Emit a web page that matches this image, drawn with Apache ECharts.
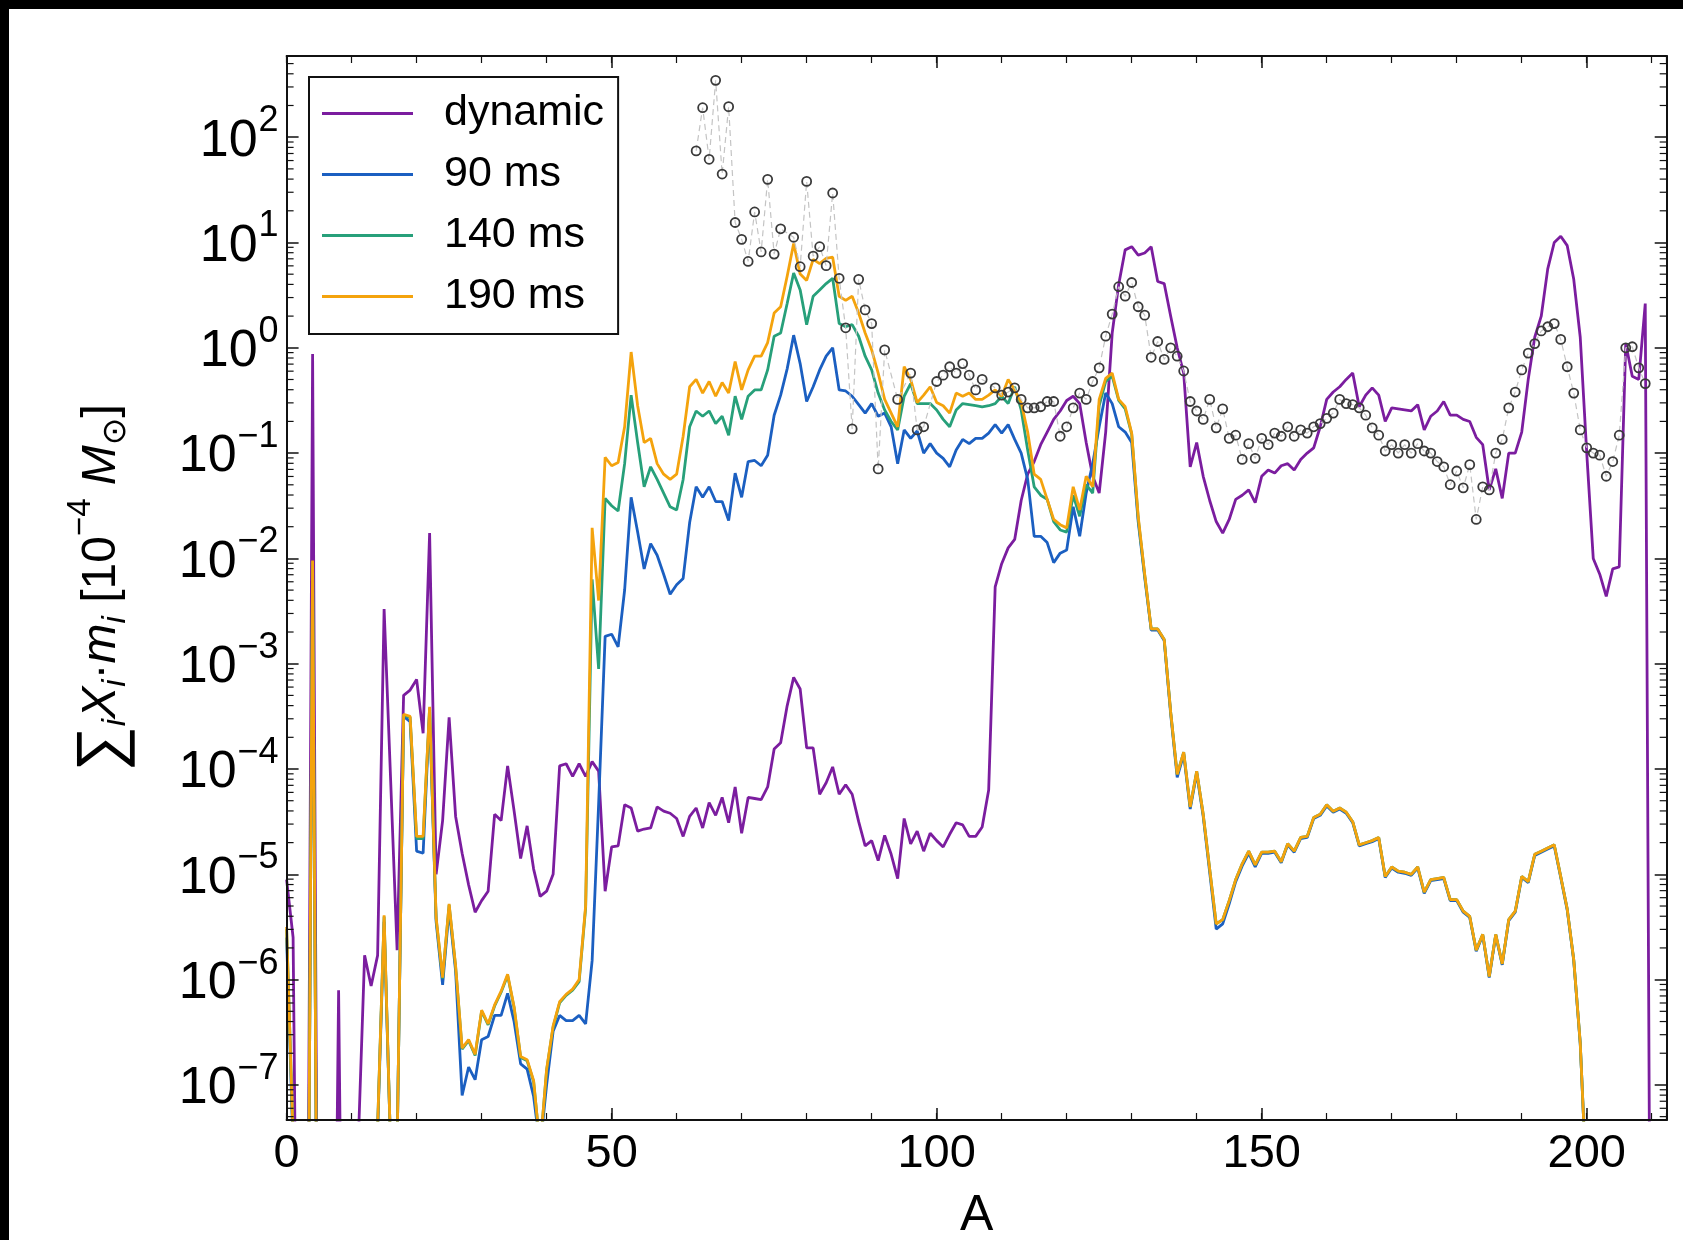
<!DOCTYPE html>
<html>
<head>
<meta charset="utf-8">
<script src="https://cdn.jsdelivr.net/npm/echarts@6/dist/echarts.min.js"></script>
<style>
html,body{margin:0;padding:0;background:#000;width:1683px;height:1240px;overflow:hidden;}
#paper{position:absolute;left:9px;top:9px;width:1674px;height:1231px;background:#fff;}
#chart{position:absolute;left:0;top:0;width:1683px;height:1240px;}
</style>
</head>
<body>
<div id="paper"></div>
<div id="chart"></div>
<script>
// All series values are log10 of sum X_i*m_i [1e-4 Msun]; array index = mass number A.
// -12 marks values far below the plotted range (line drops out of the frame).
const dynamicLog = [
  -5.05,-5.6,-12,-12,-0.06,-12,-12,-12,-6.1,-12,
  -12,-7.6,-5.77,-6.06,-5.77,-2.48,-4.1,-5.72,-3.3,-3.25,
  -3.15,-3.66,-1.76,-5.0,-4.49,-3.51,-4.45,-4.8,-5.1,-5.36,
  -5.25,-5.16,-4.43,-4.49,-3.97,-4.4,-4.85,-4.54,-4.95,-5.21,
  -5.16,-5.0,-3.97,-3.95,-4.07,-3.95,-4.07,-3.93,-4.02,-5.16,
  -4.74,-4.73,-4.34,-4.37,-4.59,-4.57,-4.56,-4.36,-4.40,-4.42,
  -4.47,-4.64,-4.45,-4.37,-4.56,-4.32,-4.44,-4.27,-4.51,-4.17,
  -4.61,-4.27,-4.28,-4.29,-4.17,-3.81,-3.75,-3.4,-3.13,-3.24,
  -3.80,-3.80,-4.24,-4.13,-3.98,-4.24,-4.15,-4.24,-4.50,-4.73,
  -4.68,-4.87,-4.63,-4.81,-5.04,-4.47,-4.71,-4.59,-4.78,-4.61,
  -4.68,-4.74,-4.62,-4.51,-4.53,-4.64,-4.64,-4.55,-4.2,-2.27,
  -2.05,-1.90,-1.82,-1.45,-1.20,-1.08,-0.92,-0.80,-0.68,-0.60,
  -0.50,-0.46,-0.53,-0.90,-1.22,-1.38,-0.80,0.14,0.60,0.93,
  0.96,0.88,0.90,0.96,0.63,0.61,0.30,0.00,-0.24,-1.13,
  -0.90,-1.22,-1.45,-1.65,-1.76,-1.63,-1.44,-1.40,-1.35,-1.47,
  -1.22,-1.16,-1.19,-1.12,-1.10,-1.16,-1.06,-1.00,-0.95,-0.75,
  -0.49,-0.42,-0.37,-0.30,-0.24,-0.56,-0.45,-0.38,-0.45,-0.70,
  -0.57,-0.58,-0.59,-0.60,-0.54,-0.78,-0.65,-0.60,-0.51,-0.64,
  -0.64,-0.68,-0.70,-0.85,-0.92,-1.35,-1.15,-1.43,-1.00,-1.00,
  -0.80,-0.30,0.10,0.30,0.75,1.00,1.06,0.97,0.65,0.10,
  -1.00,-2.00,-2.15,-2.36,-2.10,-2.08,0.04,-0.27,-0.30,0.42,
  -12
];
const ms90Log = [
  -5.6,-7.6,-12,-12,-2.05,-12,-12,-12,-12,-12,
  -12,-12,-12,-12,-7.45,-5.45,-7.6,-7.6,-3.50,-3.55,
  -4.78,-4.80,-3.45,-5.45,-6.05,-5.33,-5.92,-7.10,-6.83,-6.95,
  -6.57,-6.54,-6.34,-6.34,-6.13,-6.40,-6.80,-6.85,-7.11,-7.6,
  -7.00,-6.49,-6.34,-6.39,-6.39,-6.34,-6.42,-5.82,-4.33,-2.74,
  -2.72,-2.84,-2.30,-1.42,-1.75,-2.10,-1.86,-1.97,-2.15,-2.34,
  -2.25,-2.19,-1.66,-1.32,-1.42,-1.32,-1.46,-1.46,-1.64,-1.19,
  -1.42,-1.08,-1.07,-1.12,-1.02,-0.64,-0.45,-0.20,0.12,-0.15,
  -0.51,-0.37,-0.21,-0.08,0.00,-0.40,-0.41,-0.46,-0.54,-0.62,
  -0.53,-0.65,-0.62,-0.75,-1.10,-0.78,-0.86,-0.79,-1.00,-0.91,
  -1.00,-1.05,-1.13,-0.97,-0.87,-0.91,-0.86,-0.86,-0.81,-0.73,
  -0.81,-0.73,-0.87,-1.00,-1.25,-1.79,-1.79,-1.85,-2.04,-1.95,
  -1.92,-1.51,-1.79,-1.38,-1.10,-0.75,-0.43,-0.53,-0.75,-0.80,
  -0.90,-1.65,-2.18,-2.68,-2.68,-2.78,-3.48,-4.08,-3.86,-4.38,
  -4.04,-4.45,-4.98,-5.52,-5.47,-5.28,-5.07,-4.92,-4.80,-4.93,
  -4.80,-4.80,-4.79,-4.89,-4.72,-4.79,-4.66,-4.65,-4.47,-4.44,
  -4.35,-4.41,-4.38,-4.42,-4.51,-4.73,-4.71,-4.69,-4.66,-5.03,
  -4.94,-4.98,-4.99,-5.01,-4.94,-5.18,-5.06,-5.05,-5.04,-5.25,
  -5.25,-5.36,-5.41,-5.73,-5.58,-5.98,-5.58,-5.86,-5.44,-5.36,
  -5.03,-5.08,-4.82,-4.79,-4.76,-4.73,-5.03,-5.34,-5.82,-6.61,
  -8.0
];
const ms140Log = [
  -5.52,-7.5,-12,-12,-2.03,-12,-12,-12,-12,-12,
  -12,-12,-12,-12,-7.4,-5.40,-7.6,-7.6,-3.49,-3.51,
  -4.66,-4.66,-3.42,-5.42,-5.99,-5.29,-5.88,-6.66,-6.58,-6.72,
  -6.30,-6.43,-6.25,-6.12,-5.96,-6.27,-6.74,-6.77,-6.97,-7.6,
  -6.86,-6.45,-6.22,-6.15,-6.10,-6.02,-5.32,-2.20,-3.05,-1.43,
  -1.50,-1.55,-1.10,-0.45,-0.90,-1.32,-1.13,-1.25,-1.38,-1.51,
  -1.54,-1.25,-0.75,-0.60,-0.65,-0.60,-0.72,-0.65,-0.83,-0.46,
  -0.68,-0.46,-0.40,-0.40,-0.21,0.11,0.14,0.42,0.71,0.55,
  0.22,0.49,0.55,0.61,0.66,0.23,0.20,0.22,0.11,-0.08,
  -0.21,-0.43,-0.59,-0.70,-0.78,-0.46,-0.34,-0.53,-0.53,-0.53,
  -0.59,-0.68,-0.75,-0.59,-0.53,-0.54,-0.55,-0.56,-0.55,-0.53,
  -0.46,-0.53,-0.37,-0.59,-0.97,-1.32,-1.40,-1.44,-1.65,-1.73,
  -1.75,-1.40,-1.60,-1.30,-1.38,-0.55,-0.32,-0.27,-0.50,-0.58,
  -0.82,-1.62,-2.16,-2.67,-2.67,-2.77,-3.46,-4.05,-3.84,-4.36,
  -4.02,-4.43,-4.95,-5.47,-5.43,-5.25,-5.05,-4.90,-4.78,-4.91,
  -4.79,-4.79,-4.78,-4.88,-4.71,-4.78,-4.65,-4.64,-4.46,-4.43,
  -4.34,-4.40,-4.37,-4.41,-4.50,-4.72,-4.70,-4.68,-4.65,-5.02,
  -4.93,-4.97,-4.98,-5.00,-4.93,-5.17,-5.05,-5.04,-5.03,-5.24,
  -5.24,-5.35,-5.40,-5.72,-5.57,-5.97,-5.57,-5.85,-5.43,-5.35,
  -5.02,-5.07,-4.81,-4.78,-4.75,-4.72,-5.02,-5.33,-5.81,-6.60,
  -8.0
];
const ms190Log = [
  -5.5,-7.5,-12,-12,-2.02,-12,-12,-12,-12,-12,
  -12,-12,-12,-12,-7.4,-5.39,-7.6,-7.6,-3.48,-3.50,
  -4.64,-4.64,-3.41,-5.41,-5.98,-5.28,-5.87,-6.65,-6.57,-6.71,
  -6.29,-6.42,-6.24,-6.11,-5.95,-6.26,-6.73,-6.76,-6.96,-7.6,
  -6.85,-6.44,-6.21,-6.14,-6.09,-6.00,-5.30,-1.71,-2.40,-1.04,
  -1.12,-1.09,-0.75,-0.04,-0.55,-0.90,-0.86,-1.10,-1.20,-1.25,
  -1.20,-0.84,-0.37,-0.30,-0.43,-0.32,-0.46,-0.33,-0.43,-0.13,
  -0.40,-0.21,-0.08,-0.08,0.05,0.33,0.39,0.68,0.99,0.70,
  0.64,0.84,0.80,0.85,0.86,0.49,0.45,0.49,0.33,0.14,
  -0.02,-0.24,-0.49,-0.62,-0.75,-0.18,-0.30,-0.52,-0.45,-0.37,
  -0.52,-0.55,-0.62,-0.43,-0.46,-0.43,-0.49,-0.49,-0.45,-0.40,
  -0.46,-0.30,-0.40,-0.52,-0.80,-1.20,-1.25,-1.44,-1.63,-1.68,
  -1.71,-1.32,-1.54,-1.22,-1.32,-0.49,-0.29,-0.24,-0.49,-0.56,
  -0.81,-1.60,-2.15,-2.67,-2.67,-2.77,-3.46,-4.05,-3.84,-4.36,
  -4.02,-4.43,-4.95,-5.47,-5.43,-5.25,-5.05,-4.90,-4.78,-4.91,
  -4.79,-4.79,-4.78,-4.88,-4.71,-4.78,-4.65,-4.64,-4.46,-4.43,
  -4.34,-4.40,-4.37,-4.41,-4.50,-4.72,-4.70,-4.68,-4.65,-5.02,
  -4.93,-4.97,-4.98,-5.00,-4.93,-5.17,-5.05,-5.04,-5.03,-5.24,
  -5.24,-5.35,-5.40,-5.72,-5.57,-5.97,-5.57,-5.85,-5.43,-5.35,
  -5.02,-5.07,-4.81,-4.78,-4.75,-4.72,-5.02,-5.33,-5.81,-6.60,
  -8.0
];
// Solar r-process abundances (open circles)
const solarA = [
  63,64,65,66,67,68,69,70,71,72,73,74,75,76,78,79,80,81,82,83,84,85,86,87,88,89,90,91,92,94,
  96,97,98,100,101,102,103,104,105,106,107,109,110,111,112,113,114,115,116,117,118,119,120,
  121,122,123,124,125,126,127,128,129,130,131,132,133,134,135,136,137,138,139,140,141,142,
  143,144,145,146,147,148,149,150,151,152,153,154,155,156,157,158,159,160,161,162,163,164,
  165,166,167,168,169,170,171,172,173,174,175,176,177,178,179,180,181,182,183,184,185,186,
  187,188,189,190,191,192,193,194,195,196,197,198,199,200,201,202,203,204,205,206,207,208,209
];
const solarLog = [
  1.87,2.28,1.79,2.54,1.65,2.29,1.19,1.03,0.82,1.29,0.91,1.60,0.89,1.13,1.05,0.77,1.58,0.87,0.96,0.78,1.47,0.66,0.19,-0.77,0.65,0.36,0.23,-1.15,-0.02,-0.49,
  -0.24,-0.78,-0.75,-0.32,-0.26,-0.18,-0.24,-0.15,-0.26,-0.40,-0.30,-0.38,-0.45,-0.42,-0.38,-0.49,-0.57,-0.57,-0.56,-0.51,-0.51,-0.84,-0.75,
  -0.57,-0.43,-0.49,-0.32,-0.19,0.11,0.32,0.58,0.49,0.62,0.39,0.31,-0.09,0.06,-0.11,0.00,-0.08,-0.22,-0.51,-0.60,-0.68,-0.49,
  -0.76,-0.58,-0.86,-0.83,-1.06,-0.91,-1.05,-0.86,-0.92,-0.81,-0.84,-0.75,-0.84,-0.78,-0.81,-0.75,-0.72,-0.67,-0.62,-0.49,-0.53,-0.54,
  -0.57,-0.64,-0.76,-0.83,-0.98,-0.92,-1.00,-0.92,-1.00,-0.91,-0.98,-1.00,-1.08,-1.13,-1.30,-1.17,-1.33,-1.11,-1.63,-1.32,-1.35,-1.00,
  -0.87,-0.57,-0.42,-0.21,-0.05,0.04,0.16,0.20,0.23,0.08,-0.18,-0.43,-0.78,-0.95,-1.00,-1.02,-1.22,-1.08,-0.83,0.00,0.01,-0.19,-0.34
];
const seriesNames = ['dynamic', '90 ms', '140 ms', '190 ms'];
const seriesColors = ['#7b1d9f', '#1b5fc1', '#27a07a', '#f4a30d'];

const XMIN = 0, XMAX = 212.3;
const YMIN = -7.333, YMAX = 2.771;   // log10 range of the frame
const FONT = 'Liberation Sans, Arial, sans-serif';

// minor tick positions of a log axis (2..9 x 10^n)
const minorTicks = [];
for (let n = -8; n <= 2; n++) {
  for (let k = 2; k <= 9; k++) {
    const v = n + Math.log10(k);
    if (v > YMIN && v < YMAX) minorTicks.push([0, v]);
  }
}

const toPairs = arr => arr.map((v, i) => [i, v]);
const lineSeries = [dynamicLog, ms90Log, ms140Log, ms190Log].map((arr, i) => ({
  name: seriesNames[i],
  type: 'line',
  data: toPairs(arr),
  showSymbol: false,
  symbol: 'none',
  clip: true,
  z: 2 + i * 0.01,
  lineStyle: { color: seriesColors[i], width: 2.8 },
  itemStyle: { color: seriesColors[i] },
  emphasis: { disabled: true }
}));

const axisLineStyle = { color: '#111', width: 2 };
const majorTick = { show: true, inside: true, length: 12, lineStyle: { color: '#111', width: 1.5 } };
const minorTickX = { show: true, inside: true, length: 7, lineStyle: { color: '#111', width: 1.2 } };

// line height 76 (from the base token) is centred on the tick; base text centred, superscript at the top
const yLabelRich = {
  b: { fontSize: 52, lineHeight: 76, fontFamily: FONT, color: '#000', padding: [16, 0, 0, 0], verticalAlign: 'top' },
  s: { fontSize: 36, lineHeight: 36, fontFamily: FONT, color: '#000', padding: [4, 2, 0, 1], verticalAlign: 'top' }
};

const nameRich = {
  n:   { fontSize: 48, lineHeight: 48, fontFamily: FONT, color: '#000', padding: [26, 0, 26, 0], verticalAlign: 'top' },
  it:  { fontSize: 48, lineHeight: 48, fontFamily: FONT, fontStyle: 'italic', color: '#000', padding: [26, 0, 26, 0], verticalAlign: 'top' },
  sum: { fontSize: 64, lineHeight: 64, fontFamily: FONT, color: '#000', padding: [20, 0, 16, 0], verticalAlign: 'top' },
  sub: { fontSize: 33, lineHeight: 33, fontFamily: FONT, fontStyle: 'italic', color: '#000', padding: [48, 0, 19, 0], verticalAlign: 'top' },
  subr:{ fontSize: 33, lineHeight: 33, fontFamily: 'DejaVu Sans, sans-serif', color: '#000', padding: [48, 0, 19, 0], verticalAlign: 'top' },
  sup: { fontSize: 33, lineHeight: 33, fontFamily: FONT, color: '#000', padding: [13, 0, 54, 0], verticalAlign: 'top' }
};

const option = {
  backgroundColor: 'transparent',
  animation: false,
  grid: { left: 286.6, right: 16.3, top: 56, bottom: 120, containLabel: false, outerBoundsMode: 'none' },
  legend: {
    data: seriesNames,
    orient: 'vertical',
    left: 309, top: 77,
    icon: 'rect',
    itemWidth: 91, itemHeight: 3, itemGap: 18,
    padding: [15, 14, 16, 13],
    borderColor: '#111', borderWidth: 2, borderRadius: 0,
    backgroundColor: '#fff',
    textStyle: { fontSize: 43, fontFamily: FONT, color: '#000', padding: [0, 0, 0, 26] },
    selectedMode: false,
    z: 20
  },
  xAxis: [
    { type: 'value', min: XMIN, max: XMAX, interval: 50, position: 'bottom', z: 5,
      axisLine: { show: true, onZero: false, lineStyle: axisLineStyle },
      axisTick: majorTick, splitLine: { show: false },
      axisLabel: { margin: 11, fontSize: 47, fontFamily: FONT, color: '#000',
        formatter: v => (Math.abs(v / 50 - Math.round(v / 50)) < 1e-6 ? String(Math.round(v)) : '') },
      name: 'A', nameLocation: 'middle', nameGap: 76,
      nameTextStyle: { fontSize: 50, lineHeight: 40, fontFamily: FONT, color: '#000' } },
    { type: 'value', min: XMIN, max: XMAX, interval: 10, position: 'bottom', z: 5,
      axisLine: { show: false, onZero: false }, axisTick: minorTickX,
      axisLabel: { show: false }, splitLine: { show: false } },
    { type: 'value', min: XMIN, max: XMAX, interval: 50, position: 'top', z: 5,
      axisLine: { show: true, onZero: false, lineStyle: axisLineStyle },
      axisTick: majorTick, axisLabel: { show: false }, splitLine: { show: false } },
    { type: 'value', min: XMIN, max: XMAX, interval: 10, position: 'top', z: 5,
      axisLine: { show: false, onZero: false }, axisTick: minorTickX,
      axisLabel: { show: false }, splitLine: { show: false } }
  ],
  yAxis: [
    { type: 'value', min: YMIN, max: YMAX, splitNumber: 10, position: 'left', z: 5,
      axisLine: { show: true, onZero: false, lineStyle: axisLineStyle },
      axisTick: majorTick, splitLine: { show: false },
      axisLabel: {
        margin: 6,
        formatter: function (v) {
          const r = Math.round(v);
          if (Math.abs(v - r) > 1e-6) return '';
          const e = r < 0 ? '\u2212' + (-r) : String(r);
          return '{b|10}{s|' + e + '}';
        },
        rich: yLabelRich
      },
      name: '{sum|\u2211}{sub|i}{it|X}{sub|i}{n|\u00b7}{it|m}{sub|i}{n| [10}{sup|\u22124}{it| M}{subr|\u2299}{n|]}',
      nameLocation: 'middle', nameRotate: 90, nameGap: 171,
      nameTextStyle: { rich: nameRich }
    },
    { type: 'value', min: YMIN, max: YMAX, splitNumber: 10, position: 'right', z: 5,
      axisLine: { show: true, onZero: false, lineStyle: axisLineStyle },
      axisTick: majorTick, axisLabel: { show: false }, splitLine: { show: false } }
  ],
  series: [
    ...lineSeries,
    {
      name: 'solar r-process',
      type: 'line',
      data: solarA.map((a, i) => [a, solarLog[i]]),
      showSymbol: true,
      symbol: 'circle',
      symbolSize: 9,
      clip: true,
      z: 3,
      lineStyle: { color: '#c4c4c4', width: 1.2, type: [6, 4] },
      itemStyle: { color: 'rgba(0,0,0,0)', borderColor: '#3a3a3a', borderWidth: 1.8 },
      emphasis: { disabled: true }
    },
    {
      name: 'yMinorTicks',
      type: 'custom',
      data: minorTicks,
      encode: { x: 0, y: 1 },
      silent: true,
      clip: false,
      z: 6,
      renderItem: function (params, api) {
        const v = api.value(1);
        const L = api.coord([XMIN, v]);
        const R = api.coord([XMAX, v]);
        return {
          type: 'group',
          children: [
            { type: 'line', shape: { x1: L[0], y1: L[1], x2: L[0] + 7, y2: L[1] }, style: { stroke: '#111', lineWidth: 1.2 } },
            { type: 'line', shape: { x1: R[0] - 7, y1: R[1], x2: R[0], y2: R[1] }, style: { stroke: '#111', lineWidth: 1.2 } }
          ]
        };
      }
    }
  ]
};

const chart = echarts.init(document.getElementById('chart'), null, { renderer: 'canvas' });
chart.setOption(option);
</script>
</body>
</html>
